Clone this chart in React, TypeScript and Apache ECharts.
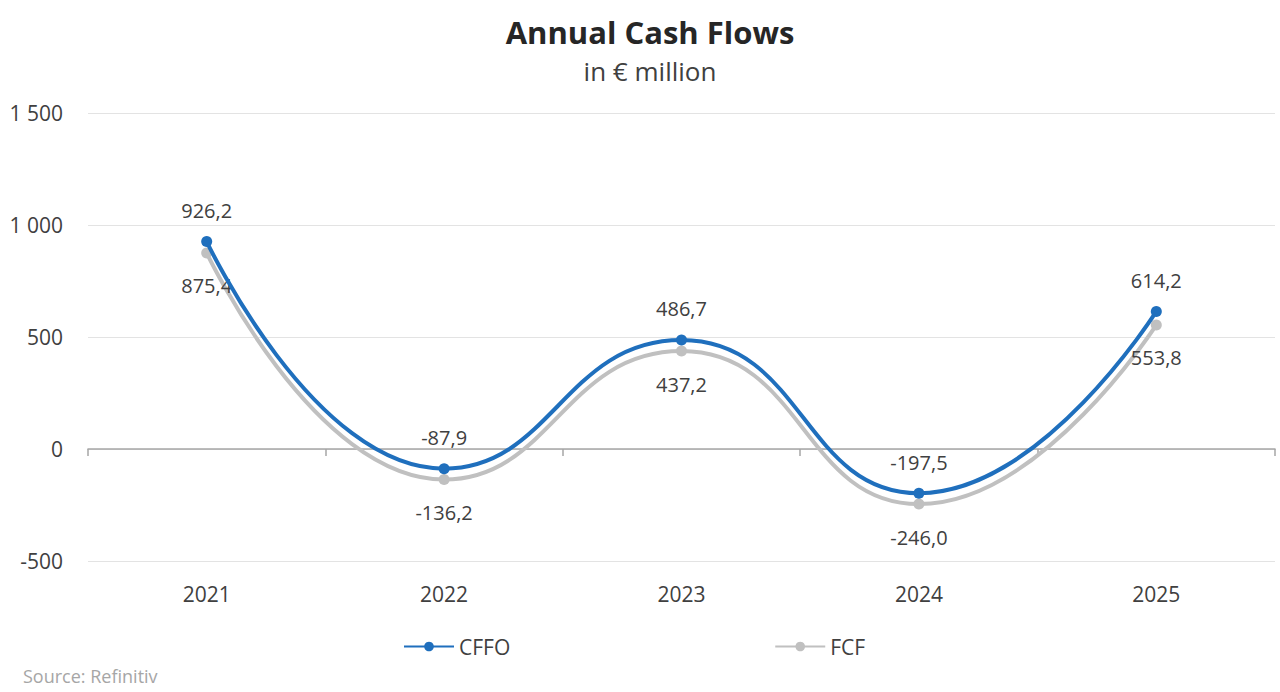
import React, { useEffect, useRef } from "react";
import * as echarts from "echarts";

const years = ["2021", "2022", "2023", "2024", "2025"];
const cffo = [926.2, -87.9, 486.7, -197.5, 614.2];
const fcf = [875.4, -136.2, 437.2, -246.0, 553.8];
const yTicks = { min: -500, max: 1500, interval: 500 };

const FONT = "'Open Sans', sans-serif";
const BLUE = "#1f6fbd";
const GREY = "#c0c0c0";

const fmtComma = (v: number) => v.toFixed(1).replace(".", ",");
const fmtThousands = (v: number) => {
  const s = Math.abs(v).toString().replace(/\B(?=(\d{3})+(?!\d))/g, " ");
  return (v < 0 ? "-" : "") + s;
};

export default function App() {
  const ref = useRef<HTMLDivElement>(null);
  useEffect(() => {
    document.body.style.margin = "0";
    const chart = echarts.init(ref.current!, null, { renderer: "svg" });
    const labelStyle = (dy: number) => ({
      show: true,
      position: "inside",
      offset: [0, dy],
      fontFamily: FONT,
      fontSize: 20,
      color: "#404040",
      formatter: (p: any) => fmtComma(p.value),
    });
    chart.setOption({
      animation: false,
      backgroundColor: "#ffffff",
      textStyle: { fontFamily: FONT },
      title: [
        {
          text: "Annual Cash Flows",
          left: 645,
          textAlign: "center",
          top: 11,
          textStyle: { fontFamily: FONT, fontSize: 31, fontWeight: "bold", color: "#262626" },
        },
        {
          text: "in € million",
          left: 645,
          textAlign: "center",
          top: 53,
          textStyle: { fontFamily: FONT, fontSize: 26, fontWeight: "normal", color: "#404040" },
        },
        {
          text: "Source: Refinitiv",
          left: 18,
          top: 662,
          textStyle: { fontFamily: FONT, fontSize: 18, fontWeight: "normal", color: "#a6a6a6" },
        },
      ],
      grid: { left: 88, right: 5, top: 113, height: 448, outerBoundsMode: "none", containLabel: false },
      legend: {
        bottom: 30,
        left: 398,
        itemWidth: 50,
        itemHeight: 12,
        itemGap: 264,
        textStyle: { fontFamily: FONT, fontSize: 21, color: "#404040" },
        data: ["CFFO", "FCF"],
      },
      xAxis: {
        type: "category",
        data: years,
        boundaryGap: true,
        axisLine: { onZero: true, lineStyle: { color: "#a6a6a6", width: 1.5 } },
        axisTick: { show: true, length: 7, lineStyle: { color: "#a6a6a6", width: 1.5 } },
        axisLabel: { margin: 22, fontFamily: FONT, fontSize: 21, color: "#404040" },
        splitLine: { show: false },
      },
      yAxis: {
        type: "value",
        min: yTicks.min,
        max: yTicks.max,
        interval: yTicks.interval,
        axisLine: { show: false },
        axisTick: { show: false },
        axisLabel: {
          margin: 25,
          fontFamily: FONT,
          fontSize: 21,
          color: "#404040",
          formatter: (v: number) => fmtThousands(v),
        },
        splitLine: { lineStyle: { color: "#e3e3e3", width: 1 } },
      },
      series: [
        {
          name: "FCF",
          type: "line",
          smooth: 0.5,
          data: fcf,
          symbol: "circle",
          symbolSize: 11,
          lineStyle: { color: GREY, width: 4 },
          itemStyle: { color: GREY },
          z: 2,
          label: labelStyle(33),
        },
        {
          name: "CFFO",
          type: "line",
          smooth: 0.5,
          data: cffo,
          symbol: "circle",
          symbolSize: 11,
          lineStyle: { color: BLUE, width: 4 },
          itemStyle: { color: BLUE },
          z: 3,
          label: labelStyle(-31),
        },
      ],
    });
    return () => chart.dispose();
  }, []);
  return <div ref={ref} style={{ width: 1280, height: 692 }} />;
}
